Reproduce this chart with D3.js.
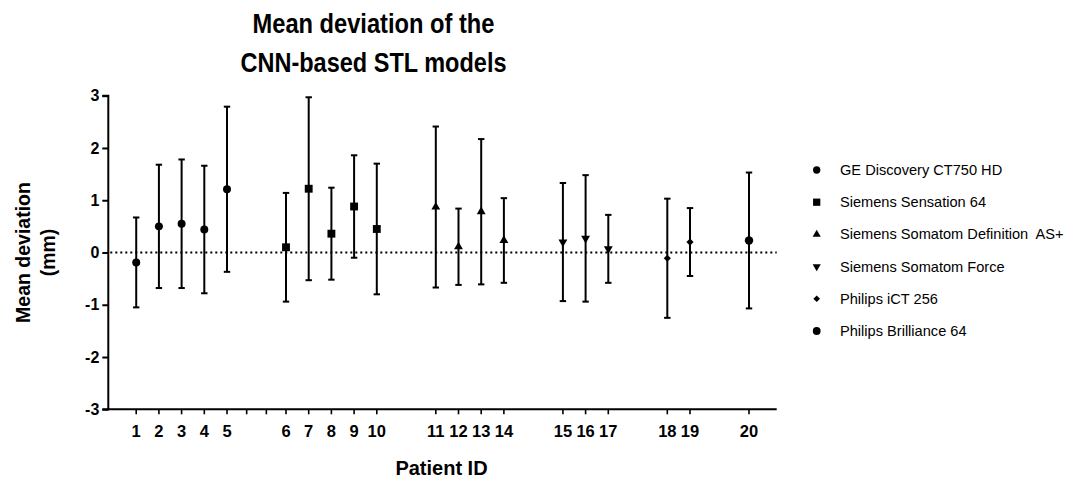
<!DOCTYPE html>
<html>
<head>
<meta charset="utf-8">
<script src="https://cdn.jsdelivr.net/npm/d3@7/dist/d3.min.js"></script>
<style>
  html, body { margin: 0; padding: 0; background: #ffffff; }
  svg { display: block; font-family: "Liberation Sans", Arial, Helvetica, sans-serif; }
</style>
</head>
<body>
<svg id="chart" width="1069" height="479"></svg>
<script>
// ---- data ----
const patients = ["1","2","3","4","5","6","7","8","9","10","11","12","13","14","15","16","17","18","19","20"];
const scannerOfPatient = [0,0,0,0,0, 1,1,1,1,1, 2,2,2,2, 3,3,3, 4,4, 5];
const means = [-0.19, 0.50, 0.55, 0.44, 1.21, 0.10, 1.22, 0.36, 0.88, 0.45,
               0.87, 0.11, 0.78, 0.23, 0.20, 0.27, 0.07, -0.11, 0.20, 0.23];
const sds   = [0.86, 1.18, 1.23, 1.22, 1.58, 1.04, 1.75, 0.88, 0.98, 1.25,
               1.54, 0.73, 1.39, 0.81, 1.13, 1.21, 0.65, 1.14, 0.65, 1.30];
const scanners = ["GE Discovery CT750 HD", "Siemens Sensation 64", "Siemens Somatom Definition  AS+",
                  "Siemens Somatom Force", "Philips iCT 256", "Philips Brilliance 64"];
const yTicks = [-3, -2, -1, 0, 1, 2, 3];
const titleLines = ["Mean deviation of the", "CNN-based STL models"];
const yTitleLines = ["Mean deviation", "(mm)"];
const xTitle = "Patient ID";

// ---- layout ----
const svg = d3.select("#chart");
const plotL = 108.3, plotR = 776.7, plotT = 95.7, plotB = 409.3;
const groupGap = 1.6; // extra column units between scanner groups

// column position: index + extra gap per group
const pos = patients.map((p, i) => i + scannerOfPatient[i] * groupGap);

const x = d3.scaleLinear().domain([-1.23, 28.22]).range([plotL, plotR]);
const y = d3.scaleLinear().domain([-3, 3]).range([plotB, plotT]);

const symbolFor = [
  { type: d3.symbolCircle, size: 50, rot: 0 },
  { type: d3.symbolSquare, size: 62, rot: 0 },
  { type: d3.symbolTriangle, size: 34, rot: 0 },
  { type: d3.symbolTriangle, size: 34, rot: 180 },
  { type: d3.symbolSquare, size: 26, rot: 45 },
  { type: d3.symbolCircle, size: 56, rot: 0 }
];

// ---- title ----
const titleLen = [242, 266];
svg.append("g").selectAll("text").data(titleLines).join("text")
  .attr("x", 373.5)
  .attr("y", (d, i) => 33 + i * 38.6)
  .attr("text-anchor", "middle")
  .attr("font-size", 27)
  .attr("font-weight", "bold")
  .attr("textLength", (d, i) => titleLen[i])
  .attr("lengthAdjust", "spacingAndGlyphs")
  .attr("fill", "#000")
  .text(d => d);

// ---- zero dotted line ----
svg.append("line")
  .attr("x1", plotL + 2).attr("x2", plotR)
  .attr("y1", y(0)).attr("y2", y(0))
  .attr("stroke", "#000").attr("stroke-width", 2)
  .attr("stroke-dasharray", "2,3");

// ---- y axis ----
const yAxis = d3.axisLeft(y).tickValues(yTicks).tickSize(6).tickPadding(3).tickFormat(d => String(d));
const gy = svg.append("g").attr("transform", `translate(${plotL},0)`).call(yAxis);
gy.select(".domain").attr("stroke-width", 2).attr("d", `M-6,${plotB}H0V${plotT}H-6`);
gy.selectAll(".tick line").attr("stroke-width", 2);
gy.selectAll(".tick text").attr("font-size", 16).attr("font-weight", "bold")
  .attr("font-family", "Liberation Sans, Arial, sans-serif").attr("fill", "#000");

// ---- x axis ----
const blankTicks = [pos[4] + (pos[5] - pos[4]) / 3, pos[4] + 2 * (pos[5] - pos[4]) / 3];
const gx = svg.append("g");
gx.append("line")
  .attr("x1", plotL - 1).attr("x2", plotR)
  .attr("y1", plotB).attr("y2", plotB)
  .attr("stroke", "#000").attr("stroke-width", 2);
gx.selectAll("line.tick").data(pos.concat(blankTicks)).join("line")
  .attr("class", "tick")
  .attr("x1", d => x(d)).attr("x2", d => x(d))
  .attr("y1", plotB).attr("y2", plotB + 5)
  .attr("stroke", "#000").attr("stroke-width", 1.6);
gx.selectAll("text").data(patients).join("text")
  .attr("x", (d, i) => x(pos[i]))
  .attr("y", 436.7)
  .attr("text-anchor", "middle")
  .attr("font-size", 16.5)
  .attr("font-weight", "bold")
  .attr("fill", "#000")
  .text(d => d);

// ---- axis titles ----
svg.append("text")
  .attr("x", 441.5).attr("y", 475)
  .attr("text-anchor", "middle")
  .attr("font-size", 20).attr("font-weight", "bold")
  .text(xTitle);

svg.append("g").selectAll("text").data(yTitleLines).join("text")
  .attr("transform", (d, i) => `translate(${30 + i * 25},${y(0)}) rotate(-90)`)
  .attr("text-anchor", "middle")
  .attr("font-size", 19.5).attr("font-weight", "bold")
  .text(d => d);

// ---- error bars ----
const capW = 3.2;
const bars = svg.append("g").selectAll("g").data(patients).join("g")
  .attr("transform", (d, i) => `translate(${x(pos[i])},0)`);
bars.append("line")
  .attr("y1", (d, i) => y(means[i] - sds[i])).attr("y2", (d, i) => y(means[i] + sds[i]))
  .attr("stroke", "#000").attr("stroke-width", 2);
bars.append("line")
  .attr("x1", -capW).attr("x2", capW)
  .attr("y1", (d, i) => y(means[i] + sds[i])).attr("y2", (d, i) => y(means[i] + sds[i]))
  .attr("stroke", "#000").attr("stroke-width", 2);
bars.append("line")
  .attr("x1", -capW).attr("x2", capW)
  .attr("y1", (d, i) => y(means[i] - sds[i])).attr("y2", (d, i) => y(means[i] - sds[i]))
  .attr("stroke", "#000").attr("stroke-width", 2);

// ---- markers ----
bars.append("path")
  .attr("d", (d, i) => d3.symbol().type(symbolFor[scannerOfPatient[i]].type).size(symbolFor[scannerOfPatient[i]].size)())
  .attr("transform", (d, i) => `translate(0,${y(means[i])}) rotate(${symbolFor[scannerOfPatient[i]].rot})`)
  .attr("fill", "#000");

// ---- legend ----
const legendY = d3.scaleLinear().domain([0, scanners.length - 1]).range([170, 331]);
const lg = svg.append("g").selectAll("g").data(scanners).join("g")
  .attr("transform", (d, i) => `translate(816.7,${legendY(i)})`);
lg.append("path")
  .attr("d", (d, i) => d3.symbol().type(symbolFor[i].type).size(symbolFor[i].size * 0.85)())
  .attr("transform", (d, i) => `rotate(${symbolFor[i].rot})`)
  .attr("fill", "#000");
lg.append("text")
  .attr("x", 23.3).attr("y", 5)
  .attr("font-size", 14.6)
  .attr("fill", "#000")
  .style("white-space", "pre")
  .attr("xml:space", "preserve")
  .text(d => d);
</script>
</body>
</html>
